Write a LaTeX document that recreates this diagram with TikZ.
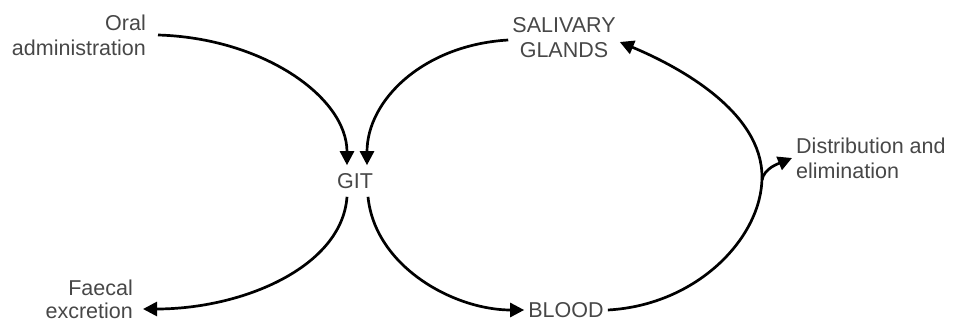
\documentclass[tikz,border=0pt]{standalone}
\usepackage{fontspec}
\setmainfont{Liberation Sans}
\usetikzlibrary{arrows.meta}

\begin{document}
\begin{tikzpicture}[x=1pt,y=-1pt,
  lbl/.style={text=black!72,inner sep=4pt,font=\fontsize{21.5}{25}\selectfont},
  flow/.style={line width=2.7pt,-{Triangle[length=14pt,width=14pt]}},
  arc/.style={line width=2.7pt}]
\path[use as bounding box] (0,0) rectangle (955,324);
\node[lbl,anchor=east,align=right] (oral) at (150,35) {Oral\\administration};
\node[lbl,align=center] (sal) at (564,38) {SALIVARY\\GLANDS};
\node[lbl,inner xsep=0pt,inner ysep=8pt] (git) at (355,181) {GIT};
\node[lbl,anchor=east,align=right,font=\fontsize{21.5}{23}\selectfont] (faecal) at (137,299) {Faecal\\excretion};
\node[lbl] (blood) at (566,310) {BLOOD};
\node[lbl,anchor=west,align=left] (dist) at (792,158) {Distribution and\\elimination};
\coordinate (turn) at (762,177);
\draw[flow] ([xshift=8pt]oral.east) .. controls +(105,3) and +(0,-68) .. ([xshift=-8pt]git.north);
\draw[flow] ([yshift=-2pt]sal.west) .. controls +(-85,5) and +(0,-65) .. ([xshift=12pt]git.north);
\draw[flow] ([xshift=-8pt]git.south) .. controls +(-5,70) and +(100,0) .. ([xshift=6pt,yshift=-10pt]faecal.east);
\draw[flow] ([xshift=13pt]git.south) .. controls +(7,70) and +(-70,0) .. (blood.west);
\draw[arc] (blood.east) .. controls +(90,-5) and +(0,60) .. (turn);
\draw[flow] (turn) .. controls +(0,-65) and +(60,25) .. ([yshift=-4pt]sal.east);
\draw[flow] ([yshift=-3pt]turn) .. controls +(2,-12) and +(-12,5) .. (dist.west);
\end{tikzpicture}
\end{document}
